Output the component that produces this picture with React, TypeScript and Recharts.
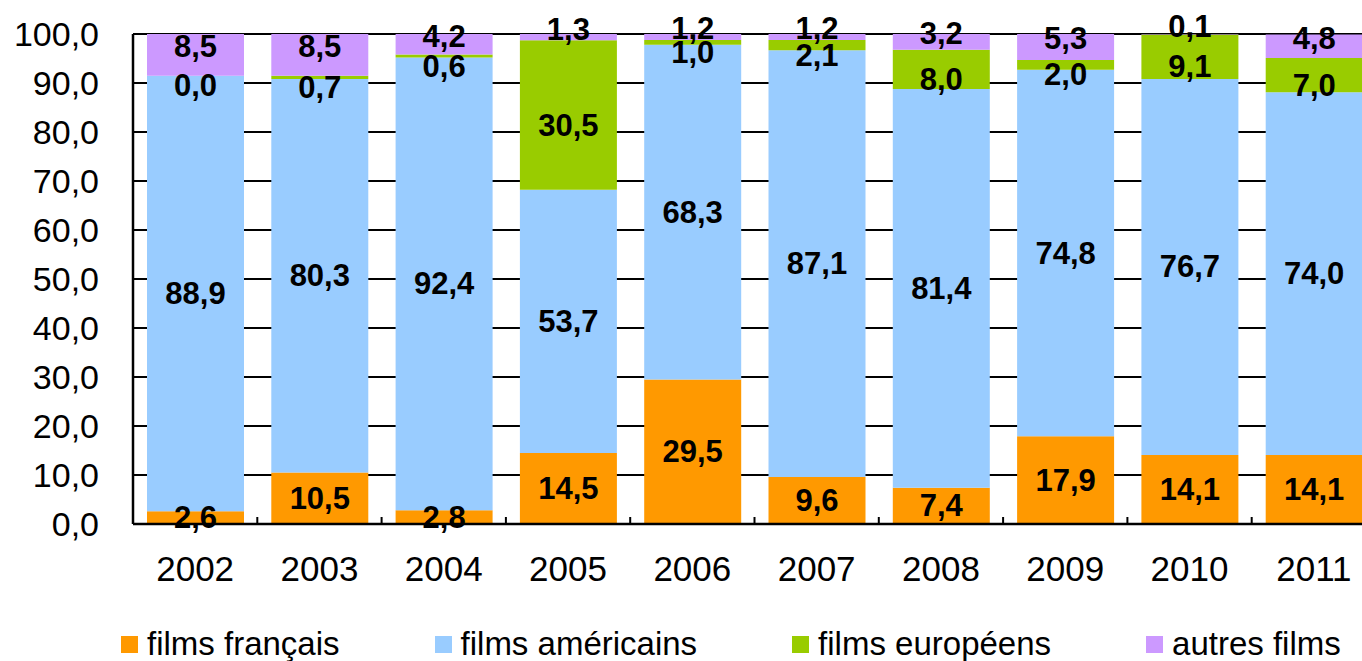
import { BarChart, Bar, XAxis, YAxis, CartesianGrid, Legend, LabelList } from 'recharts';

const years = ['2002', '2003', '2004', '2005', '2006', '2007', '2008', '2009', '2010', '2011'];
const filmsFrancais = [2.6, 10.5, 2.8, 14.5, 29.5, 9.6, 7.4, 17.9, 14.1, 14.1];
const filmsAmericains = [88.9, 80.3, 92.4, 53.7, 68.3, 87.1, 81.4, 74.8, 76.7, 74.0];
const filmsEuropeens = [0.0, 0.7, 0.6, 30.5, 1.0, 2.1, 8.0, 2.0, 9.1, 7.0];
const autresFilms = [8.5, 8.5, 4.2, 1.3, 1.2, 1.2, 3.2, 5.3, 0.1, 4.8];
const yTicks = [0, 10, 20, 30, 40, 50, 60, 70, 80, 90, 100];

const data = years.map((year, i) => ({
  year,
  fr: filmsFrancais[i],
  us: filmsAmericains[i],
  eu: filmsEuropeens[i],
  other: autresFilms[i],
}));

// label nudge mimics the hand-moved labels of the small top segments
const series = [
  { key: 'fr', name: 'films français', color: '#FF9900', labelDy: 0 },
  { key: 'us', name: 'films américains', color: '#99CCFF', labelDy: 0 },
  { key: 'eu', name: 'films européens', color: '#99CC00', labelDy: 10 },
  { key: 'other', name: 'autres films', color: '#CC99FF', labelDy: -8 },
];

const FONT = '"Liberation Sans", Arial, sans-serif';
const fmt = (v: number) => v.toFixed(1).replace('.', ',');

const TICK_MARGIN = 32;

function YearTick(props: any) {
  const { x, y, payload } = props;
  const half = payload && payload.offset != null ? payload.offset : 62;
  const axisY = y - TICK_MARGIN;
  return (
    <g>
      <line x1={x - half} x2={x - half} y1={axisY} y2={axisY - 7} stroke="#000" strokeWidth={2} />
      <text x={x} y={y} dy="0.71em" textAnchor="middle" fontSize={35} fontFamily={FONT} fill="#000">
        {payload.value}
      </text>
    </g>
  );
}

function makeLabel(dyShift: number) {
  return (props: any) => {
    const { x, y, width, height, value } = props;
    if (value == null) return null;
    return (
      <text
        x={x + width / 2}
        y={y + height / 2 + dyShift}
        textAnchor="middle"
        dominantBaseline="central"
        fontSize={31}
        fontWeight="bold"
        fontFamily={FONT}
        fill="#000"
      >
        {fmt(value)}
      </text>
    );
  };
}

function LegendRow() {
  return (
    <div
      style={{
        display: 'flex',
        justifyContent: 'flex-start',
        alignItems: 'center',
        gap: 95,
        height: 40,
        paddingLeft: 121,
        paddingTop: 6,
        boxSizing: 'border-box',
        fontFamily: FONT,
        fontSize: 33,
        color: '#000',
        whiteSpace: 'nowrap',
      }}
    >
      {series.map((s) => (
        <div key={s.key} style={{ display: 'flex', alignItems: 'center' }}>
          <span style={{ width: 17, height: 17, background: s.color, marginRight: 9, display: 'inline-block' }} />
          <span style={{ lineHeight: '30px' }}>{s.name}</span>
        </div>
      ))}
    </div>
  );
}

export default function App() {
  return (
    <div
      style={{
        position: 'fixed',
        left: 0,
        top: 0,
        width: 1362,
        height: 661,
        overflow: 'hidden',
        background: '#fff',
      }}
    >
      <BarChart
        width={1390}
        height={661}
        data={data}
        margin={{ top: 34, right: 14, left: 0, bottom: 0 }}
      >
        <CartesianGrid vertical={false} stroke="#000" strokeWidth={2} />
        <XAxis
          dataKey="year"
          height={97}
          interval={0}
          tickSize={0}
          tickMargin={TICK_MARGIN}
          tick={<YearTick />}
          axisLine={{ stroke: '#000', strokeWidth: 2.5 }}
          tickLine={false}
        />
        <YAxis
          width={133}
          domain={[0, 100]}
          allowDataOverflow
          ticks={yTicks}
          interval={0}
          tickFormatter={fmt}
          tickSize={0}
          tickMargin={34}
          tick={{ fontSize: 34, fontFamily: FONT, fill: '#000' }}
          axisLine={{ stroke: '#000', strokeWidth: 2.5 }}
          tickLine={false}
        />
        <Legend
          verticalAlign="bottom"
          content={<LegendRow />}
          wrapperStyle={{ left: 0, width: 1362, height: 40, bottom: 0 }}
        />
        {series.map((s) => (
          <Bar
            key={s.key}
            dataKey={s.key}
            name={s.name}
            stackId="a"
            fill={s.color}
            barSize={97}
            minPointSize={0.01}
            isAnimationActive={false}
          >
            <LabelList dataKey={s.key} content={makeLabel(s.labelDy)} />
          </Bar>
        ))}
      </BarChart>
    </div>
  );
}
